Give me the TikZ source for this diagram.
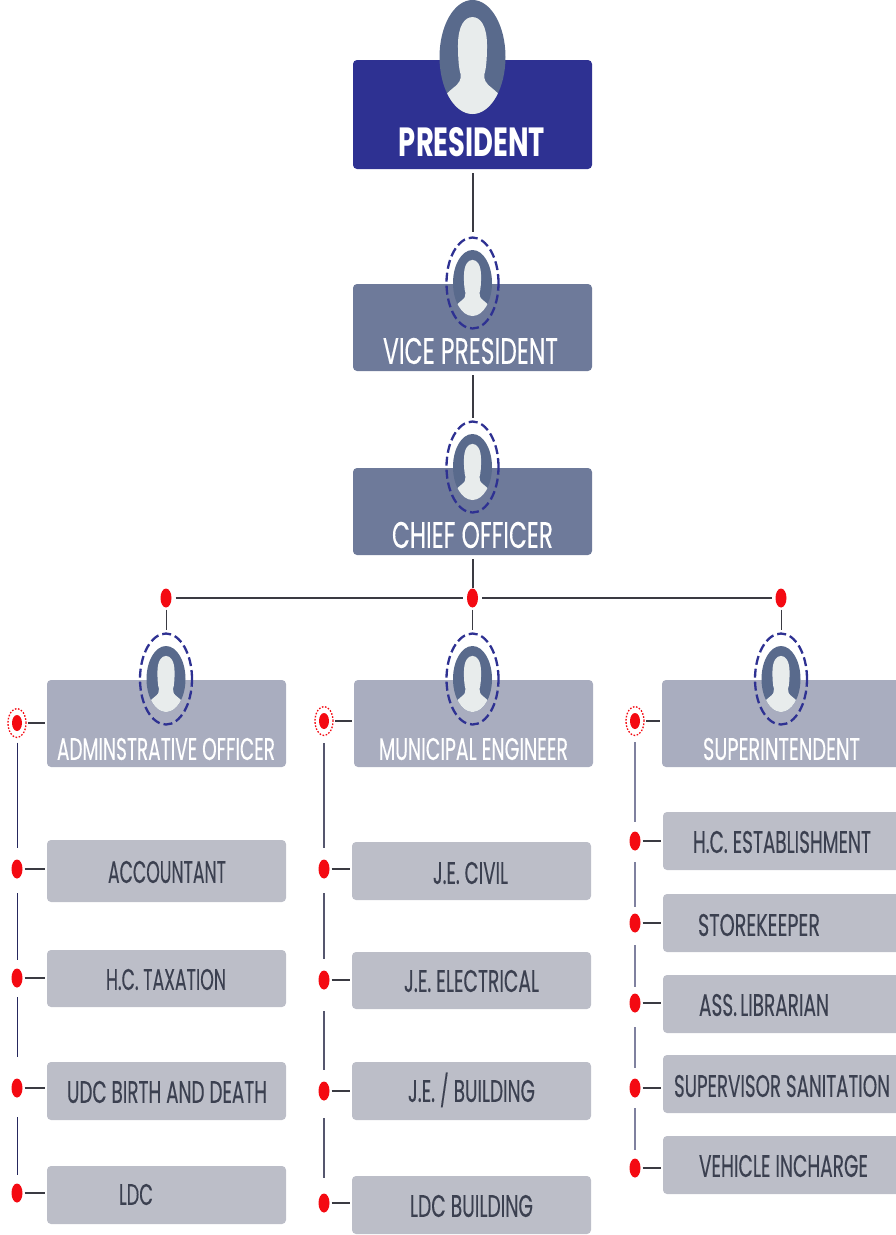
\documentclass[tikz,border=0pt]{standalone}
\usepackage{fontspec}
\setmainfont{Poppins}[FakeBold=0.35,BoldFeatures={FakeBold=0}]
\usetikzlibrary{shapes.geometric}
\definecolor{presblue}{HTML}{2E3192}
\definecolor{tierA}{HTML}{6E7A9A}
\definecolor{tierB}{HTML}{A9ADBF}
\definecolor{tierC}{HTML}{BCBEC8}
\definecolor{avatarbg}{HTML}{596A8C}
\definecolor{skin}{HTML}{E8ECEC}
\definecolor{ink}{HTML}{3B4050}
\definecolor{wire}{HTML}{3A3A42}
\definecolor{dotred}{HTML}{F40A12}
\definecolor{ringblue}{HTML}{2E3192}
\definecolor{railL}{HTML}{26285E}
\definecolor{railM}{HTML}{55566E}
\definecolor{railR}{HTML}{7F819F}
\tikzset{
  boxn/.style={rounded corners=4pt,inner sep=0pt,outer sep=0pt,draw=none},
  lab/.style={inner sep=0pt,outer sep=0pt},
  dotn/.style={ellipse,inner sep=0pt,outer sep=0pt,fill=dotred,minimum width=11pt,minimum height=19pt},
  bigdotn/.style={ellipse,inner sep=0pt,outer sep=0pt,fill=dotred,minimum width=10pt,minimum height=16pt},
  dotring/.style={ellipse,inner sep=0pt,outer sep=0pt,draw=dotred,line width=1.3pt,dash pattern=on 1.6pt off 1.6pt,minimum width=18pt,minimum height=29pt},
  dashring/.style={ellipse,inner sep=0pt,outer sep=0pt,draw=ringblue,line width=2.3pt,dash pattern=on 9pt off 4pt,minimum width=52pt,minimum height=91pt},
  conn/.style={draw=wire,line width=2pt},
}
% box by its corners
\newcommand{\bx}[6]{%
  \pgfmathsetmacro{\bw}{#4-#2}\pgfmathsetmacro{\bh}{#5-#3}%
  \pgfmathsetmacro{\bcx}{(#4+#2)/2}\pgfmathsetmacro{\bcy}{(#5+#3)/2}%
  \node[boxn,fill=#6,minimum width=\bw pt,minimum height=\bh pt] (#1) at (\bcx,\bcy) {};}
% text fitted to its extent
\newcommand{\lb}[7]{%
  \pgfmathsetmacro{\bw}{#4-#2}\pgfmathsetmacro{\bh}{#5-#3}%
  \pgfmathsetmacro{\bcx}{(#4+#2)/2}\pgfmathsetmacro{\bcy}{(#5+#3)/2}%
  \node[lab,text=#6] (#1) at (\bcx,\bcy) {\resizebox{\bw pt}{\bh pt}{#7}};}
% portrait
\newcommand{\avatar}[5]{%
  \node[ellipse,inner sep=0pt,outer sep=0pt,fill=avatarbg,minimum width=#4*2pt,minimum height=#5*2pt] (#1) at (#2,#3) {};
  \begin{scope}[shift={(#2,#3)},x=#4pt,y=#5pt]
    \clip (0,0) circle (1);
    \fill[skin] (0,0.7) .. controls (0.24,0.7) and (0.44,0.55) .. (0.44,0.2)
      .. controls (0.44,0.02) and (0.42,-0.2) .. (0.36,-0.3)
      .. controls (0.34,-0.4) and (0.4,-0.46) .. (0.58,-0.54)
      .. controls (0.7,-0.6) and (0.8,-0.64) .. (0.9,-0.74)
      -- (0.9,-1.1) -- (-0.9,-1.1) -- (-0.9,-0.74)
      .. controls (-0.8,-0.64) and (-0.7,-0.6) .. (-0.58,-0.54)
      .. controls (-0.4,-0.46) and (-0.34,-0.4) .. (-0.36,-0.3)
      .. controls (-0.42,-0.2) and (-0.44,0.02) .. (-0.44,0.2)
      .. controls (-0.44,0.55) and (-0.24,0.7) .. (0,0.7) -- cycle;
  \end{scope}}
\begin{document}
\begin{tikzpicture}[x=1pt,y=-1pt]
\useasboundingbox (0,0) rectangle (895,1235);
% main boxes
\bx{pres}{353}{60}{592}{169}{presblue}
\bx{vp}{353}{284}{592}{371}{tierA}
\bx{co}{353}{468}{592}{555}{tierA}
\bx{adm}{47}{680}{286}{767}{tierB}
\bx{mun}{354}{680}{593}{767}{tierB}
\bx{sup}{662}{680}{901}{767}{tierB}
% lower boxes
\bx{acc}{47}{840}{286}{902}{tierC}
\bx{hct}{47}{950}{286}{1007}{tierC}
\bx{udc}{47}{1062}{286}{1120}{tierC}
\bx{ldc}{47}{1166}{286}{1224}{tierC}
\bx{civ}{352}{842}{591}{900}{tierC}
\bx{ele}{352}{952}{591}{1009}{tierC}
\bx{bld}{352}{1062}{591}{1120}{tierC}
\bx{lbd}{352}{1176}{591}{1234}{tierC}
\bx{est}{663}{812}{901}{870}{tierC}
\bx{sto}{663}{894}{901}{952}{tierC}
\bx{lib}{663}{975}{901}{1033}{tierC}
\bx{san}{663}{1055}{901}{1113}{tierC}
\bx{veh}{663}{1136}{901}{1194}{tierC}
% portraits
\avatar{apres}{472.5}{57}{33}{57}
\avatar{avp}{472.5}{283}{19.5}{33}
\node[dashring] (rvp) at (472.5,283) {};
\avatar{aco}{472.5}{467}{19.5}{33}
\node[dashring] (rco) at (472.5,467) {};
\avatar{aadm}{166}{679}{19.5}{33}
\node[dashring] (radm) at (166,679) {};
\avatar{amun}{472.5}{679}{19.5}{33}
\node[dashring] (rmun) at (472.5,679) {};
\avatar{asup}{781}{679}{19.5}{33}
\node[dashring] (rsup) at (781,679) {};
% labels
\lb{tpres}{399}{128}{545}{157}{white}{\bfseries PRESIDENT}
\lb{tvp}{383}{338}{558}{364}{white}{VICE PRESIDENT}
\lb{tco}{392}{522}{553}{548}{white}{CHIEF OFFICER}
\lb{tadm}{57}{738}{275}{760}{white}{ADMINSTRATIVE OFFICER}
\lb{tmun}{379}{738}{568}{760}{white}{MUNICIPAL ENGINEER}
\lb{tsup}{703}{738}{860}{760}{white}{SUPERINTENDENT}
\lb{tacc}{108}{861}{226}{883}{ink}{ACCOUNTANT}
\lb{thct}{106}{969}{226}{990}{ink}{H.C. TAXATION}
\lb{tudc}{67}{1081}{267}{1103}{ink}{UDC BIRTH AND DEATH}
\lb{tldc}{119}{1184}{153}{1205}{ink}{LDC}
\lb{tciv}{433}{862}{508}{884}{ink}{J.E. CIVIL}
\lb{tele}{404}{970}{539}{992}{ink}{J.E. ELECTRICAL}
\lb{tbld}{408}{1080}{535}{1102}{ink}{J.E. \smash{/} BUILDING}
\lb{tlbd}{410}{1195}{533}{1217}{ink}{LDC BUILDING}
\lb{test}{693}{831}{871}{853}{ink}{H.C. ESTABLISHMENT}
\lb{tsto}{698}{914}{820}{936}{ink}{STOREKEEPER}
\lb{tlib}{699}{994}{829}{1016}{ink}{ASS.\,LIBRARIAN}
\lb{tsan}{674}{1075}{890}{1097}{ink}{SUPERVISOR SANITATION}
\lb{tveh}{699}{1155}{868}{1177}{ink}{VEHICLE INCHARGE}
% top dots
\node[dotn] (da) at (166,598) {};
\node[dotn] (db) at (472.5,598) {};
\node[dotn] (dc) at (781,598) {};
% column dots
\node[bigdotn] (l0) at (17,723) {};\node[dotring] (lr) at (17,723) {};
\node[dotn] (l1) at (17,869) {};
\node[dotn] (l2) at (17,978) {};
\node[dotn] (l3) at (17,1088) {};
\node[dotn] (l4) at (17,1193) {};
\node[bigdotn] (m0) at (324,721) {};\node[dotring] (mr) at (324,721) {};
\node[dotn] (m1) at (324,869) {};
\node[dotn] (m2) at (324,980) {};
\node[dotn] (m3) at (324,1091) {};
\node[dotn] (m4) at (324,1203) {};
\node[bigdotn] (r0) at (635,721) {};\node[dotring] (rr) at (635,721) {};
\node[dotn] (r1) at (635,841) {};
\node[dotn] (r2) at (635,923) {};
\node[dotn] (r3) at (635,1003) {};
\node[dotn] (r4) at (635,1088) {};
\node[dotn] (r5) at (635,1168) {};
% trunk
\draw[conn,shorten <=4pt,shorten >=6pt] (pres.south) -- (rvp.north);
\draw[conn,shorten <=4pt,shorten >=4pt] (vp.south) -- (rco.north);
\draw[conn,shorten <=4pt,shorten >=1pt] (co.south) -- (db.north);
\draw[conn,shorten <=4pt,shorten >=4pt] (da.east) -- (db.west);
\draw[conn,shorten <=4pt,shorten >=4pt] (db.east) -- (dc.west);
\draw[conn,line width=1pt,shorten <=2pt,shorten >=4pt] (da.south) -- (radm.north);
\draw[conn,line width=1pt,shorten <=2pt,shorten >=4pt] (db.south) -- (rmun.north);
\draw[conn,line width=1pt,shorten <=2pt,shorten >=4pt] (dc.south) -- (rsup.north);
% stubs
\foreach \d/\b in {lr/adm,mr/mun,rr/sup,l1/acc,l2/hct,l3/udc,l4/ldc,m1/civ,m2/ele,m3/bld,m4/lbd,r1/est,r2/sto,r3/lib,r4/san,r5/veh}
  \draw[conn,shorten <=2pt,shorten >=2pt] (\d.east) -- (\b.west |- \d.east);
% column verticals, each with its own gaps
\foreach \a/\b/\s/\e in {lr/l1/5/12,l1/l2/14.5/8.5,l2/l3/9.5/21.5,l3/l4/19.5/8.5}
  \draw[draw=railL,line width=1pt,shorten <=\s pt,shorten >=\e pt] (\a.south) -- (\b.north);
\foreach \a/\b/\s/\e in {mr/m1/7.5/11.5,m1/m2/14.5/11.5,m2/m3/21.5/11.5,m3/m4/17.5/15.5}
  \draw[draw=railM,line width=1.2pt,shorten <=\s pt,shorten >=\e pt] (\a.south) -- (\b.north);
\foreach \a/\b/\s/\e in {rr/r1/6.5/9.5,r1/r2/11.5/6.5,r2/r3/12.5/6.5,r3/r4/14.5/10.5,r4/r5/10.5/8.5}
  \draw[draw=railR,line width=1.5pt,shorten <=\s pt,shorten >=\e pt] (\a.south) -- (\b.north);
\end{tikzpicture}
\end{document}
